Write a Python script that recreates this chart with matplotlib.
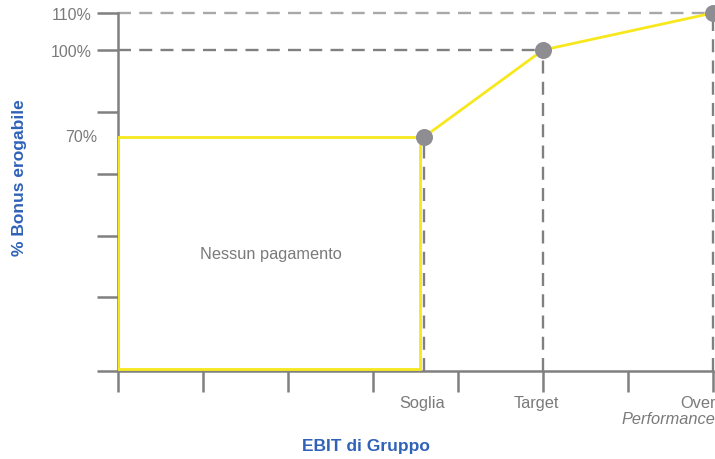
import matplotlib
matplotlib.use('Agg')
import matplotlib.pyplot as plt
import numpy as np

plt.rcParams['font.family'] = ['Liberation Sans', 'DejaVu Sans']

# data
levels = ['Soglia', 'Target', 'Over']
ebit_pos = [3.6, 5, 7]          # position on the EBIT axis (tick units)
bonus_pct = [70, 100, 110]      # % bonus erogabile
x_ticks = [0, 1, 2, 3, 4, 5, 6, 7]
y_minor = [0, 22, 40.4, 59, 78.6]   # unlabeled ticks (in %)
y_labeled = [100, 110]
y_labels = ['100%', '110%']

yellow = '#f7e81e'
gray = '#808080'
dot = '#8e8e92'
blue = '#2f62b8'
txt = '#7a7a7a'

# the original y axis is not linear: piecewise mapping % -> height
pct_pts = np.array([0, 70, 100, 110])
hgt_pts = np.array([0, 234, 321, 358])
fwd = lambda v: np.interp(v, pct_pts, hgt_pts)
inv = lambda h: np.interp(h, hgt_pts, pct_pts)

fig = plt.figure(figsize=(7.15, 4.6), dpi=100)
ax = fig.add_axes([118 / 715, 1 - 372 / 460, (713 - 118) / 715, (372 - 14) / 460])
ax.set_yscale('function', functions=(fwd, inv))
ax.set_xlim(0, 7)
ax.set_ylim(0, 110)

# no-payment box
box_r = ebit_pos[0] - 0.045
ax.plot([0, 0, box_r, box_r, 0], [0.6, bonus_pct[0], bonus_pct[0], 0.6, 0.6],
        color=yellow, lw=2, zorder=3, solid_joinstyle='miter')
ax.plot([box_r, ebit_pos[0]], [bonus_pct[0], bonus_pct[0]], color=yellow, lw=2, zorder=3)

# guide lines
dash = (0, (5.5, 3.5))
for xp, yp in zip(ebit_pos, bonus_pct):
    ax.plot([xp, xp], [0, yp], color=gray, lw=1.7, ls=dash, zorder=4, clip_on=False)
ax.plot([0, ebit_pos[1]], [bonus_pct[1]] * 2, color=gray, lw=1.7, ls=dash, zorder=2)
ax.plot([0, ebit_pos[2]], [bonus_pct[2]] * 2, color='#a8a8a8', lw=1.7, ls=dash, zorder=2,
        clip_on=False)

# payout curve
ax.plot(ebit_pos, bonus_pct, color=yellow, lw=2, zorder=4, clip_on=False)
ax.scatter(ebit_pos, bonus_pct, s=150, color=dot, zorder=5, clip_on=False, linewidths=0)

ax.text(1.8, inv(372 - 255), 'Nessun pagamento', ha='center', va='center',
        fontsize=11.8, color=txt)

# axes styling
for s in ['top', 'right']:
    ax.spines[s].set_visible(False)
for s in ['left', 'bottom']:
    ax.spines[s].set_color(gray)
    ax.spines[s].set_linewidth(1.8)

ax.set_xticks(x_ticks)
ax.set_xticklabels([])
ax.tick_params(axis='x', length=15, width=1.8, color=gray, direction='out')
ax.set_yticks(y_minor + y_labeled)
ax.set_yticklabels([''] * len(y_minor) + y_labels)
ax.tick_params(axis='y', length=15, width=1.8, color=gray, direction='out',
               labelsize=11.5, labelcolor=txt, pad=4)
ax.text(-0.24, bonus_pct[0], '70%', ha='right', va='center', fontsize=11.5, color=txt)

# category labels
xt = ax.get_xaxis_transform()
ax.text(ebit_pos[0] - 0.02, -0.087, levels[0], transform=xt,
        ha='center', va='center', fontsize=11.8, color=txt)
ax.text(4.92, -0.087, levels[1], transform=xt,
        ha='center', va='center', fontsize=11.8, color=txt)
ax.text(7.03, -0.087, levels[2], transform=xt,
        ha='right', va='center', fontsize=11.8, color=txt)
ax.text(7.03, -0.134, 'Performance', transform=xt,
        ha='right', va='center', fontsize=11.8, color=txt, style='italic')

fig.text(366 / 715, 1 - 447 / 460, 'EBIT di Gruppo', ha='center', va='center',
         fontsize=12.5, fontweight='bold', color=blue)
fig.text(20 / 715, 1 - 178 / 460, '% Bonus erogabile', ha='center', va='center',
         rotation=90, fontsize=12.5, fontweight='bold', color=blue)

fig.savefig('out.png', dpi=100)
